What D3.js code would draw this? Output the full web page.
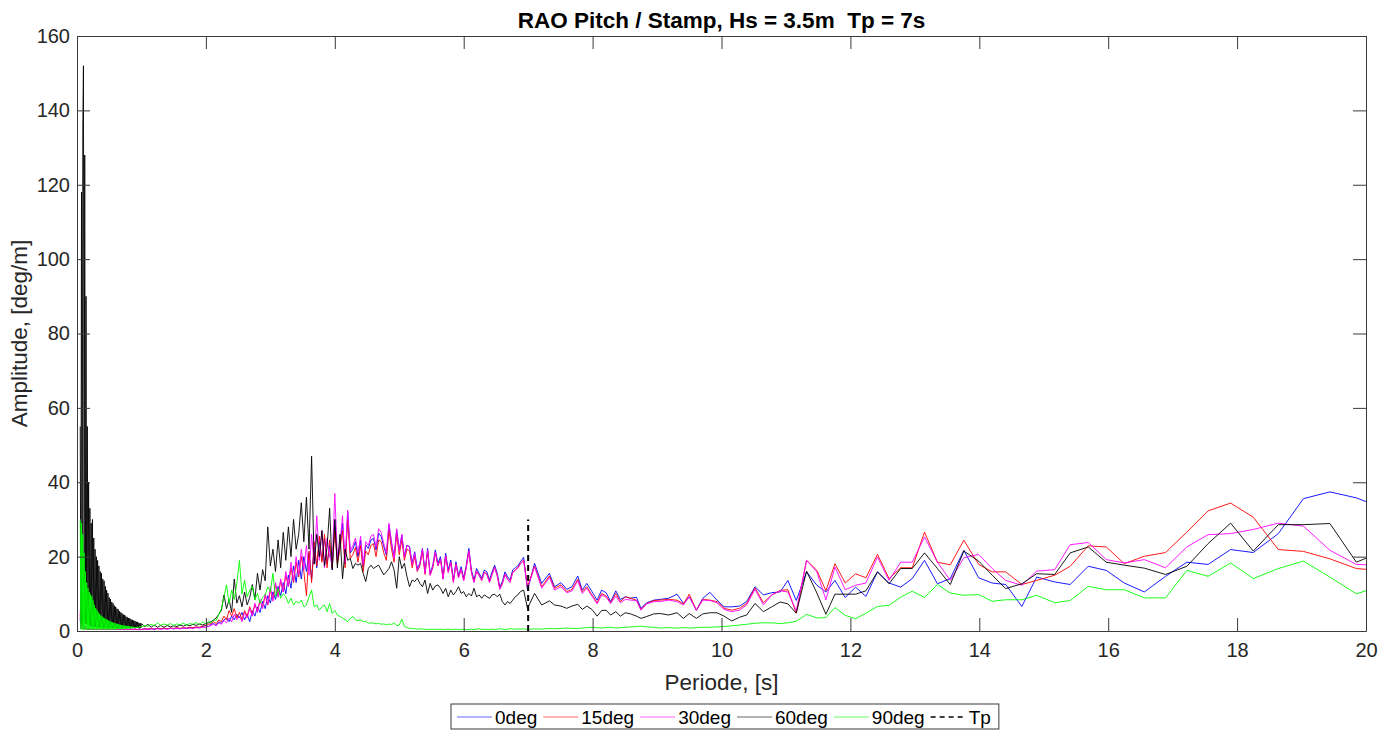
<!DOCTYPE html>
<html>
<head>
<meta charset="utf-8">
<script src="https://cdn.jsdelivr.net/npm/d3@7"></script>
<style>
  body { margin: 0; background: #fff; }
  svg { display: block; }
  text { font-family: Arial, "Liberation Sans", Helvetica, sans-serif; }
</style>
</head>
<body>
<svg id="chart" width="1397" height="733"></svg>
<script>
// ---------------- data: pitch RAO amplitude [deg/m] vs. period [s] ----------------
// Period grid, split into four bands (dense short periods -> sparse long periods)
const periodsA = [
  0.05, 0.06, 0.07, 0.08, 0.09, 0.10, 0.11, 0.12, 0.13, 0.14,
  0.15, 0.16, 0.17, 0.18, 0.19, 0.20, 0.21, 0.22, 0.23, 0.24,
  0.25, 0.26, 0.27, 0.28, 0.29, 0.30,
  0.31, 0.32, 0.33, 0.34, 0.35, 0.36, 0.37, 0.38, 0.39, 0.40,
  0.41, 0.42, 0.43, 0.44, 0.45, 0.46, 0.47, 0.48, 0.49, 0.50,
  0.51, 0.52, 0.53, 0.54, 0.55, 0.56, 0.57, 0.58, 0.59, 0.60,
  0.61, 0.62, 0.63, 0.64, 0.65, 0.66, 0.67, 0.68, 0.69, 0.70,
  0.71, 0.72, 0.73, 0.74, 0.75, 0.76, 0.77, 0.78, 0.79, 0.80,
  0.81, 0.82, 0.83, 0.84, 0.85, 0.86, 0.87, 0.88, 0.89, 0.90,
  0.91, 0.92, 0.93, 0.94, 0.95, 0.96, 0.97, 0.98, 0.99, 1.00,
  1.05, 1.10, 1.15, 1.20, 1.25, 1.30, 1.35, 1.40, 1.45, 1.50,
  1.55, 1.60, 1.65, 1.70, 1.75, 1.80, 1.85, 1.90, 1.95
];
const periodsB = [
  2.00, 2.04, 2.08, 2.12, 2.16, 2.20, 2.24, 2.28, 2.32, 2.36,
  2.40, 2.44, 2.48, 2.52, 2.56, 2.60, 2.64, 2.68, 2.72, 2.76,
  2.80, 2.84, 2.88, 2.92, 2.96, 3.00, 3.04, 3.08, 3.12, 3.16,
  3.20, 3.24, 3.28, 3.32, 3.36, 3.40, 3.44, 3.48, 3.52, 3.56,
  3.60, 3.64, 3.68, 3.72, 3.76, 3.80, 3.84, 3.88, 3.92, 3.96
];
const periodsC = [
  4.00, 4.04, 4.08, 4.12, 4.16, 4.20, 4.24, 4.28, 4.32, 4.36,
  4.40, 4.44, 4.48, 4.52, 4.56, 4.60, 4.64, 4.68, 4.72, 4.76,
  4.80, 4.84, 4.88, 4.92, 4.96, 5.00, 5.04, 5.08, 5.12, 5.16,
  5.20, 5.24, 5.28, 5.32, 5.36, 5.40, 5.44, 5.48, 5.52, 5.56,
  5.60, 5.64, 5.68, 5.72, 5.76, 5.80, 5.84, 5.88, 5.92, 5.96,
  6.00, 6.04, 6.08, 6.12, 6.16, 6.20, 6.24, 6.28, 6.32, 6.36,
  6.40, 6.44, 6.48, 6.52, 6.56, 6.60, 6.64, 6.68, 6.72, 6.76,
  6.80, 6.84
];
const periodsD = [
  6.88, 6.93, 6.99, 7.10, 7.21, 7.33, 7.41, 7.51, 7.60, 7.68,
  7.77, 7.84, 7.91, 7.99, 8.07, 8.14, 8.21, 8.28, 8.36, 8.43,
  8.51, 8.59, 8.68, 8.75, 8.84, 8.95, 9.05, 9.18, 9.31, 9.41,
  9.50, 9.61, 9.71, 9.82, 9.93, 10.04, 10.16, 10.28, 10.39, 10.52,
  10.65, 10.78, 10.91, 11.03, 11.16, 11.32, 11.48, 11.62, 11.76, 11.92,
  12.08, 12.24, 12.42, 12.60, 12.78, 12.96, 13.15, 13.35, 13.55, 13.76,
  13.99, 14.20, 14.41, 14.66, 14.89, 15.17, 15.41, 15.69, 15.97, 16.25,
  16.56, 16.89, 17.22, 17.55, 17.90, 18.25, 18.64, 19.03, 19.44, 19.85,
  20.27
];

// 0deg heading
const deg0A = [
  3.5, 0.6, 3.0, 0.6, 2.5, 0.5, 1.5, 0.5, 1.0, 0.5,
  0.8, 0.4, 0.7, 0.4, 0.6, 0.4, 0.6, 0.4, 0.6, 0.4,
  0.6, 0.4, 0.5, 0.4, 0.5, 0.4,
  0.5, 0.4, 0.5, 0.4, 0.5, 0.4, 0.5, 0.4, 0.5, 0.4,
  0.5, 0.4, 0.5, 0.4, 0.5, 0.4, 0.5, 0.4, 0.5, 0.4,
  0.5, 0.4, 0.5, 0.4, 0.5, 0.4, 0.5, 0.4, 0.5, 0.4,
  0.5, 0.4, 0.5, 0.4, 0.5, 0.4, 0.5, 0.4, 0.5, 0.4,
  0.5, 0.4, 0.5, 0.4, 0.5, 0.4, 0.5, 0.4, 0.5, 0.4,
  0.5, 0.4, 0.5, 0.4, 0.5, 0.4, 0.5, 0.4, 0.5, 0.4,
  0.5, 0.4, 0.5, 0.4, 0.5, 0.4, 0.5, 0.4, 0.5, 0.4,
  0.6, 0.5, 0.6, 0.5, 0.7, 0.5, 0.7, 0.6, 0.7, 0.6,
  0.8, 0.6, 0.8, 0.7, 0.9, 0.8, 1.0, 0.9, 1.2
];
const deg0B = [
  1.5, 1.2, 1.8, 2.0, 1.5, 2.5, 2.0, 3.0, 3.5, 2.5,
  4.0, 3.0, 4.5, 3.5, 5.0, 3.0, 4.5, 2.5, 5.5, 4.0,
  6.5, 5.0, 8.0, 6.0, 9.5, 7.5, 10.5, 8.5, 12.0, 9.5,
  13.0, 10.0, 15.0, 11.5, 17.5, 13.0, 19.0, 14.0, 20.0, 16.0,
  21.0, 14.0, 22.5, 17.0, 24.0, 19.0, 25.0, 18.0, 23.0, 16.5
];
const deg0C = [
  30, 19, 23, 29, 18, 32, 21, 22, 24, 20,
  24.5, 17.3, 23.1, 22.2, 24.5, 24.9, 21.8, 26.3, 25.4, 22.7,
  20.4, 28.5, 23.6, 20.0, 27.2, 21.8, 25.8, 20.0, 23.1, 22.7,
  18.2, 21.3, 16.8, 18.2, 22.2, 15.9, 22.2, 15.5, 17.7, 21.8,
  18.2, 20.0, 14.6, 20.9, 16.4, 19.1, 13.7, 18.6, 15.0, 17.3,
  14.2, 17.7, 22.2, 16.4, 13.7, 16.8, 15.5, 14.2, 16.4, 15.9,
  13.7, 15.9, 17.7, 15.5, 11.9, 13.3, 15.9, 14.6, 13.7, 16.4,
  17.0, 17.5
];
const deg0D = [
  18.6, 19.8, 11.0, 18.2, 12.8, 15.5, 11.9, 13.0, 11.2, 11.9,
  14.8, 11.0, 12.8, 10.6, 8.3, 11.0, 10.3, 7.9, 10.8, 8.5,
  9.2, 8.8, 9.1, 6.1, 7.6, 8.3, 8.5, 8.8, 9.9, 7.4,
  9.2, 5.6, 8.8, 10.4, 8.3, 6.5, 6.5, 6.7, 7.9, 11.9,
  9.7, 10.3, 10.5, 13.6, 8.2, 15.9, 12.3, 10.5, 13.6, 9.0,
  11.8, 9.3, 15.9, 12.9, 11.8, 14.1, 19.0, 12.7, 14.1, 21.7,
  14.3, 12.9, 12.5, 6.6, 14.5, 13.2, 12.5, 17.4, 16.3, 12.9,
  10.5, 14.7, 18.5, 17.9, 21.9, 21.1, 26.2, 35.6, 37.4, 35.8,
  33.0
];

// 15deg heading
const deg15A = [
  4.5, 0.6, 4.0, 0.6, 3.0, 0.5, 2.0, 0.5, 1.2, 0.5,
  0.9, 0.4, 0.8, 0.4, 0.7, 0.4, 0.6, 0.4, 0.6, 0.4,
  0.6, 0.4, 0.5, 0.4, 0.5, 0.4,
  0.5, 0.4, 0.5, 0.4, 0.5, 0.4, 0.5, 0.4, 0.5, 0.4,
  0.5, 0.4, 0.5, 0.4, 0.5, 0.4, 0.5, 0.4, 0.5, 0.4,
  0.5, 0.4, 0.5, 0.4, 0.5, 0.4, 0.5, 0.4, 0.5, 0.4,
  0.5, 0.4, 0.5, 0.4, 0.5, 0.4, 0.5, 0.4, 0.5, 0.4,
  0.5, 0.4, 0.5, 0.4, 0.5, 0.4, 0.5, 0.4, 0.5, 0.4,
  0.5, 0.4, 0.5, 0.4, 0.5, 0.4, 0.5, 0.4, 0.5, 0.4,
  0.5, 0.4, 0.5, 0.4, 0.5, 0.4, 0.5, 0.4, 0.5, 0.4,
  0.6, 0.5, 0.7, 0.5, 0.7, 0.6, 0.8, 0.6, 0.8, 0.7,
  0.9, 0.7, 0.9, 0.8, 1.0, 0.9, 1.1, 1.0, 1.3
];
const deg15B = [
  1.5, 1.8, 2.0, 2.5, 2.0, 3.0, 2.5, 4.0, 3.0, 5.5,
  4.0, 6.0, 3.5, 5.0, 3.0, 5.5, 4.0, 6.5, 4.5, 7.0,
  5.5, 8.0, 6.5, 9.5, 7.0, 11.0, 8.5, 12.5, 9.5, 13.5,
  10.5, 15.0, 12.0, 17.0, 13.0, 18.5, 14.5, 20.0, 16.0, 9.5,
  21.5, 13.0, 24.0, 17.5, 25.5, 18.5, 26.0, 17.0, 24.5, 17.0
];
const deg15C = [
  27, 18, 22, 27, 17, 30, 19.5, 20.5, 22.5, 18.5,
  23, 16, 21.5, 20.5, 23, 23.5, 20, 24.5, 24, 21,
  19, 27, 22, 18.5, 26, 20.5, 24.5, 19, 22, 21.5,
  17, 20, 16, 17.5, 21.5, 15.2, 21.5, 15, 17, 21,
  17.5, 19.3, 14, 20.2, 15.8, 18.5, 13.2, 18, 14.4, 16.7,
  13.7, 17.1, 21.5, 15.8, 13.2, 16.2, 15, 13.7, 15.8, 15.3,
  13.2, 15.3, 17.1, 15, 11.4, 12.8, 15.3, 14, 13.2, 15.8,
  16.4, 17.0
];
const deg15D = [
  18.2, 19.1, 11.9, 17.5, 11.9, 14.8, 11.5, 12.4, 10.6, 11.2,
  13.9, 10.6, 11.9, 9.7, 7.6, 10.1, 9.4, 7.6, 10.1, 7.9,
  9.2, 8.8, 8.3, 5.8, 7.4, 8.2, 8.3, 8.5, 8.3, 7.3,
  9.9, 5.6, 8.5, 8.3, 7.9, 6.1, 5.6, 6.1, 7.4, 11.6,
  7.6, 9.7, 10.9, 11.1, 4.8, 19.0, 16.3, 10.8, 18.1, 12.9,
  15.4, 14.3, 20.6, 14.1, 17.0, 17.0, 26.6, 18.5, 17.8, 24.4,
  17.9, 15.9, 15.9, 12.5, 13.6, 15.0, 17.4, 22.9, 22.6, 18.1,
  20.1, 21.1, 26.6, 32.3, 34.4, 30.6, 21.9, 21.4, 19.4, 16.8,
  16.2
];

// 30deg heading
const deg30A = [
  5.5, 0.6, 5.0, 0.6, 4.0, 0.6, 2.5, 0.5, 1.5, 0.5,
  1.0, 0.4, 0.8, 0.4, 0.7, 0.4, 0.6, 0.4, 0.6, 0.4,
  0.6, 0.4, 0.5, 0.4, 0.5, 0.4,
  0.5, 0.4, 0.5, 0.4, 0.5, 0.4, 0.5, 0.4, 0.5, 0.4,
  0.5, 0.4, 0.5, 0.4, 0.5, 0.4, 0.5, 0.4, 0.5, 0.4,
  0.5, 0.4, 0.5, 0.4, 0.5, 0.4, 0.5, 0.4, 0.5, 0.4,
  0.5, 0.4, 0.5, 0.4, 0.5, 0.4, 0.5, 0.4, 0.5, 0.4,
  0.5, 0.4, 0.5, 0.4, 0.5, 0.4, 0.5, 0.4, 0.5, 0.4,
  0.5, 0.4, 0.5, 0.4, 0.5, 0.4, 0.5, 0.4, 0.5, 0.4,
  0.5, 0.4, 0.5, 0.4, 0.5, 0.4, 0.5, 0.4, 0.5, 0.4,
  0.5, 0.4, 0.6, 0.5, 0.6, 0.5, 0.6, 0.5, 0.7, 0.6,
  0.7, 0.6, 0.8, 0.7, 0.8, 0.7, 0.9, 0.8, 1.0
];
const deg30B = [
  1.0, 1.2, 1.5, 1.8, 1.4, 2.2, 1.8, 2.8, 2.2, 3.5,
  2.5, 4.5, 3.0, 4.0, 2.5, 5.0, 3.5, 6.0, 4.0, 7.5,
  5.0, 8.5, 6.0, 10.0, 7.0, 12.0, 8.0, 13.0, 9.0, 14.0,
  10.5, 16.0, 12.0, 18.5, 13.5, 20.0, 15.0, 22.0, 16.5, 23.0,
  15.0, 26.0, 18.0, 31.0, 19.0, 27.0, 17.0, 25.0, 20.0, 18.0
];
const deg30C = [
  37, 19.5, 23.5, 31, 18.5, 32.5, 21.5, 23, 25, 21,
  25.5, 18, 24, 23, 25.5, 26, 22.5, 27.5, 26.5, 23.5,
  21, 29, 24, 19.5, 27.5, 21.5, 26, 19.8, 23, 22.5,
  17.8, 21, 16.2, 17.8, 22, 15.5, 21.8, 15, 17.2, 21.2,
  17.5, 19.3, 13.9, 20.2, 15.7, 18.4, 13, 17.9, 14.3, 16.6,
  13.5, 17, 21.5, 15.7, 13, 16.1, 14.8, 13.5, 15.7, 15.2,
  13, 15.2, 17, 14.8, 11.2, 12.6, 15.2, 13.9, 13, 15.7,
  16.3, 16.9
];
const deg30D = [
  18.0, 18.9, 11.5, 17.3, 11.5, 14.4, 11.0, 11.9, 10.3, 10.8,
  13.5, 10.1, 11.5, 9.4, 7.3, 9.7, 9.1, 7.4, 9.4, 7.6,
  8.5, 8.3, 8.2, 5.6, 7.3, 7.9, 7.9, 8.3, 7.9, 7.0,
  9.2, 5.6, 8.3, 8.2, 7.6, 5.8, 5.2, 5.6, 7.0, 11.2,
  7.0, 9.7, 10.8, 10.5, 5.4, 19.0, 15.9, 8.4, 17.2, 11.1,
  12.3, 12.9, 19.9, 13.6, 18.5, 18.5, 25.3, 18.5, 13.6, 19.7,
  20.6, 16.8, 13.6, 12.3, 16.1, 16.5, 23.2, 23.8, 19.2, 18.3,
  19.2, 17.0, 22.6, 25.9, 26.2, 27.3, 29.0, 28.2, 21.7, 17.9,
  17.6
];

// 60deg heading
const deg60A = [
  55, 1.5, 118, 2, 135, 152, 3, 128, 2, 90,
  2, 55, 1.5, 40, 1.5, 33, 1.2, 29, 1.2, 30,
  1.2, 25, 1.1, 22, 1.1, 20,
  1.0, 19, 1.0, 17.5, 1.0, 16, 1.0, 15.5, 0.9, 14,
  0.9, 13.5, 0.9, 12, 0.9, 11, 0.9, 10.2, 0.8, 9,
  0.8, 8.6, 0.8, 7.8, 0.8, 7.4, 0.8, 6.8, 0.8, 6.5,
  0.8, 6.0, 0.8, 5.8, 0.8, 5.3, 0.8, 5.0, 0.8, 4.7,
  0.8, 4.4, 0.8, 4.3, 0.8, 3.9, 0.8, 3.7, 0.8, 3.5,
  0.8, 3.4, 0.8, 3.1, 0.8, 3.0, 0.8, 2.8, 0.8, 2.7,
  0.8, 2.5, 0.8, 2.4, 0.8, 2.2, 0.8, 2.1, 0.8, 2.0,
  1.2, 1.8, 1.0, 1.6, 1.0, 1.5, 1.0, 1.5, 1.1, 1.4,
  1.2, 1.6, 1.3, 1.7, 1.4, 1.8, 1.5, 1.9, 1.6
];
const deg60B = [
  2.0, 2.2, 2.5, 3.0, 3.5, 4.5, 5.5, 9.7, 6.0, 8.5,
  5.0, 14.0, 7.5, 9.5, 6.5, 10.5, 7.0, 9.0, 12.5, 8.5,
  15.5, 11.0, 16.5, 13.5, 28.0, 17.5, 22.0, 16.0, 24.5, 17.0,
  26.5, 19.0, 28.0, 20.0, 30.0, 22.0, 26.0, 34.5, 24.0, 36.0,
  22.0, 47.0, 18.0, 26.0, 20.0, 27.0, 17.5, 22.5, 33.0, 16.5
];
const deg60C = [
  30, 17, 26, 14, 22, 19, 19.5, 16.8, 18.2, 17.7,
  18.2, 15.5, 13.3, 16.8, 17.7, 16.8, 17.3, 17.7, 16.4, 15.1,
  15.9, 16.8, 18.6, 16.4, 11.5, 20.0, 16.8, 18.2, 14.6, 11.9,
  13.7, 13.3, 14.2, 12.8, 11.9, 13.7, 10.1, 12.8, 11.0, 12.1,
  12.4, 11.5, 10.1, 11.5, 9.2, 11.0, 9.7, 10.6, 11.9, 10.1,
  10.6, 9.2, 10.1, 9.4, 11.5, 9.2, 9.7, 8.8, 9.7, 9.2,
  8.8, 9.7, 9.9, 9.2, 9.9, 7.9, 7.0, 7.9, 7.4, 8.3,
  9.2, 9.7
];
const deg60D = [
  10.6, 11.0, 6.1, 10.1, 7.0, 8.1, 7.0, 6.7, 6.1, 6.7,
  7.2, 5.8, 6.7, 5.8, 4.0, 5.5, 5.6, 4.3, 5.2, 4.0,
  4.9, 4.6, 4.0, 3.4, 3.9, 4.6, 4.7, 4.3, 4.9, 3.4,
  4.7, 3.4, 4.6, 4.9, 4.9, 4.0, 2.7, 3.7, 4.3, 7.4,
  5.2, 6.5, 7.8, 7.3, 4.8, 16.1, 10.2, 4.5, 9.9, 9.9,
  9.9, 10.8, 15.9, 12.7, 16.8, 16.8, 21.0, 16.8, 12.5, 21.5,
  18.8, 15.0, 11.4, 12.7, 15.4, 15.2, 21.0, 22.6, 18.5, 17.7,
  16.9, 15.2, 17.4, 23.5, 29.0, 21.5, 28.6, 28.6, 28.9, 18.5,
  21.5
];

// 90deg heading
const deg90A = [
  30, 0.4, 29, 0.4, 26, 0.4, 21, 0.4, 16, 0.4,
  13, 0.4, 11.5, 0.4, 10.5, 0.4, 9.8, 0.4, 9.3, 0.4,
  8.2, 0.4, 7.0, 0.4, 6.2, 0.4,
  5.6, 0.4, 5.0, 0.4, 4.6, 0.4, 4.2, 0.4, 3.9, 0.4,
  3.6, 0.4, 3.4, 0.4, 3.2, 0.4, 3.0, 0.4, 2.8, 0.4,
  2.6, 0.4, 2.5, 0.4, 2.3, 0.4, 2.2, 0.4, 2.1, 0.4,
  2.0, 0.5, 1.9, 0.5, 1.8, 0.5, 1.7, 0.5, 1.6, 0.5,
  1.5, 0.5, 1.5, 0.6, 1.4, 0.6, 1.4, 0.6, 1.3, 0.6,
  1.3, 0.7, 1.2, 0.7, 1.2, 0.7, 1.1, 0.8, 1.1, 0.8,
  1.1, 0.8, 1.0, 0.9, 1.1, 0.9, 1.2, 1.0, 1.3, 1.1,
  1.5, 1.3, 1.8, 1.4, 2.2, 1.5, 1.9, 1.6, 2.0, 1.5,
  1.9, 1.7, 2.1, 1.6, 2.0, 1.8, 2.3, 1.7, 2.4
];
const deg90B = [
  2.0, 2.5, 2.2, 3.0, 2.8, 4.5, 6.0, 9.0, 12.4, 7.4,
  11.0, 8.5, 12.8, 19.0, 10.0, 13.7, 9.2, 11.0, 12.0, 8.3,
  10.1, 7.5, 9.0, 9.7, 11.9, 10.5, 15.5, 9.2, 11.5, 8.8,
  10.0, 9.2, 7.4, 8.8, 7.0, 8.0, 7.5, 8.3, 6.5, 7.0,
  9.2, 11.0, 6.5, 7.0, 5.6, 6.5, 7.0, 5.2, 7.4, 4.7
];
const deg90C = [
  5.5, 4.3, 3.9, 3.5, 3.0, 2.5, 3.4, 3.9, 3.0, 2.8,
  3.0, 2.5, 2.6, 2.1, 2.2, 2.1, 1.9, 2.1, 1.8, 1.9,
  1.6, 1.9, 1.7, 2.2, 1.4, 1.6, 3.2, 1.2, 0.9, 0.7,
  0.7, 0.6, 0.5, 0.6, 0.5, 0.5, 0.4, 0.5, 0.4, 0.5,
  0.4, 0.5, 0.4, 0.4, 0.5, 0.4, 0.4, 0.5, 0.4, 0.4,
  0.5, 0.4, 0.4, 0.5, 0.4, 0.5, 0.6, 0.4, 0.5, 0.4,
  0.4, 0.5, 0.4, 0.5, 0.6, 0.5, 0.4, 0.5, 0.6, 0.5,
  0.5, 0.6
];
const deg90D = [
  0.5, 0.6, 0.4, 0.6, 0.5, 0.7, 0.6, 0.7, 0.8, 0.7,
  0.7, 0.8, 0.9, 1.0, 0.9, 0.8, 0.9, 1.0, 0.8, 0.9,
  1.0, 1.1, 1.2, 1.3, 1.1, 1.0, 0.8, 0.9, 0.8, 0.9,
  0.8, 0.9, 1.0, 1.0, 1.1, 1.2, 1.4, 1.6, 1.8, 2.1,
  2.2, 2.2, 2.0, 2.2, 2.6, 4.5, 3.5, 3.6, 6.3, 4.2,
  3.3, 4.8, 6.6, 6.9, 9.1, 10.7, 9.0, 12.5, 10.2, 9.6,
  9.8, 8.0, 8.4, 8.4, 9.6, 7.6, 8.2, 12.0, 11.1, 11.1,
  8.9, 8.9, 16.3, 14.7, 18.3, 14.1, 16.8, 18.8, 14.5, 10.0,
  12.3
];

// Peak period marker
const peakPeriod = 7;
const peakMarkerHeight = 30;

const legendLabels = ["0deg", "15deg", "30deg", "60deg", "90deg", "Tp"];
const xTicks = [0, 2, 4, 6, 8, 10, 12, 14, 16, 18, 20];
const yTicks = [0, 20, 40, 60, 80, 100, 120, 140, 160];

// ---------------- chart ----------------
const periodBands = [periodsA, periodsB, periodsC, periodsD];
const series = [
  { name: legendLabels[0], color: "#0000ff", bands: [deg0A, deg0B, deg0C, deg0D] },
  { name: legendLabels[1], color: "#ff0000", bands: [deg15A, deg15B, deg15C, deg15D] },
  { name: legendLabels[2], color: "#ff00ff", bands: [deg30A, deg30B, deg30C, deg30D] },
  { name: legendLabels[3], color: "#000000", bands: [deg60A, deg60B, deg60C, deg60D] },
  { name: legendLabels[4], color: "#00ff00", bands: [deg90A, deg90B, deg90C, deg90D] }
];
series.forEach(s => {
  s.points = periodBands.flatMap((periods, k) => {
    const vals = s.bands[k];
    const n = Math.min(periods.length, vals.length);
    return periods.slice(0, n).map((t, i) => [t, vals[i]]);
  });
});

const plot = { left: 77, right: 1366, top: 36, bottom: 631 };
const axisColor = "#3a3a3a";

const svg = d3.select("#chart");
const x = d3.scaleLinear().domain([0, 20]).range([plot.left, plot.right]);
const y = d3.scaleLinear().domain([0, 160]).range([plot.bottom, plot.top]);

svg.append("defs").append("clipPath").attr("id", "plot-clip")
  .append("rect")
  .attr("x", plot.left).attr("y", plot.top)
  .attr("width", plot.right - plot.left).attr("height", plot.bottom - plot.top);

svg.append("rect")
  .attr("x", plot.left).attr("y", plot.top)
  .attr("width", plot.right - plot.left).attr("height", plot.bottom - plot.top)
  .attr("fill", "#fff");

const line = d3.line().x(d => x(d[0])).y(d => y(d[1]));

const lines = svg.append("g").attr("clip-path", "url(#plot-clip)");
series.forEach(s => {
  lines.append("path")
    .datum(s.points)
    .attr("fill", "none")
    .attr("stroke", s.color)
    .attr("stroke-width", 0.9)
    .attr("stroke-linejoin", "round")
    .attr("d", line);
});

// Tp marker
lines.append("line")
  .attr("x1", x(peakPeriod)).attr("x2", x(peakPeriod))
  .attr("y1", y(0)).attr("y2", y(peakMarkerHeight))
  .attr("stroke", "#000").attr("stroke-width", 2)
  .attr("stroke-dasharray", "6,4");

// axes (ticks inward on all four sides)
const tickLen = 13;
function styleAxis(g) {
  g.selectAll(".domain").attr("stroke", axisColor).attr("stroke-width", 1);
  g.selectAll(".tick line").attr("stroke", axisColor).attr("stroke-width", 1);
  g.selectAll(".tick text").attr("fill", "#262626").attr("font-size", 20)
    .attr("font-family", "Arial, 'Liberation Sans', Helvetica, sans-serif");
}
svg.append("g")
  .attr("transform", `translate(0,${plot.bottom})`)
  .call(d3.axisBottom(x).tickValues(xTicks).tickFormat(d3.format("d"))
    .tickSizeInner(-tickLen).tickSizeOuter(0).tickPadding(12))
  .call(styleAxis);
svg.append("g")
  .attr("transform", `translate(0,${plot.top})`)
  .call(d3.axisTop(x).tickValues(xTicks).tickFormat("")
    .tickSizeInner(-tickLen).tickSizeOuter(0))
  .call(styleAxis);
svg.append("g")
  .attr("transform", `translate(${plot.left},0)`)
  .call(d3.axisLeft(y).tickValues(yTicks).tickFormat(d3.format("d"))
    .tickSizeInner(-tickLen).tickSizeOuter(0).tickPadding(7))
  .call(styleAxis);
svg.append("g")
  .attr("transform", `translate(${plot.right},0)`)
  .call(d3.axisRight(y).tickValues(yTicks).tickFormat("")
    .tickSizeInner(-tickLen).tickSizeOuter(0))
  .call(styleAxis);

// title and axis labels
svg.append("text")
  .attr("x", (plot.left + plot.right) / 2).attr("y", 28)
  .attr("text-anchor", "middle")
  .attr("font-size", 22.5).attr("font-weight", "bold").attr("fill", "#000")
  .style("white-space", "pre")
  .text("RAO Pitch / Stamp, Hs = 3.5m  Tp = 7s");

svg.append("text")
  .attr("x", (plot.left + plot.right) / 2).attr("y", 690)
  .attr("text-anchor", "middle")
  .attr("font-size", 22.5).attr("fill", "#262626")
  .text("Periode, [s]");

svg.append("text")
  .attr("transform", `translate(27,${(plot.top + plot.bottom) / 2}) rotate(-90)`)
  .attr("text-anchor", "middle")
  .attr("font-size", 22.5).attr("fill", "#262626")
  .text("Amplitude, [deg/m]");

// legend
const legend = svg.append("g");
const legendBox = legend.append("rect")
  .attr("fill", "#fff").attr("stroke", axisColor).attr("stroke-width", 1);
const legendY = 717;
const sampleLen = 35;
let cursor = 457;
const legendItems = series.map(s => ({ name: s.name, color: s.color, dash: null }))
  .concat([{ name: legendLabels[5], color: "#000", dash: "5,4" }]);
legendItems.forEach(item => {
  legend.append("line")
    .attr("x1", cursor).attr("x2", cursor + sampleLen)
    .attr("y1", legendY).attr("y2", legendY)
    .attr("stroke", item.color)
    .attr("stroke-width", item.dash ? 1.6 : 1)
    .attr("stroke-opacity", item.dash ? 1 : 0.6)
    .attr("stroke-dasharray", item.dash);
  const t = legend.append("text")
    .attr("x", cursor + sampleLen + 3).attr("y", legendY)
    .attr("dy", "0.36em")
    .attr("font-size", 19).attr("fill", "#000")
    .text(item.name);
  cursor = cursor + sampleLen + 3 + t.node().getComputedTextLength() + 6;
});
legendBox
  .attr("x", 451).attr("y", 704)
  .attr("width", cursor + 2 - 451).attr("height", 25);
</script>
</body>
</html>
